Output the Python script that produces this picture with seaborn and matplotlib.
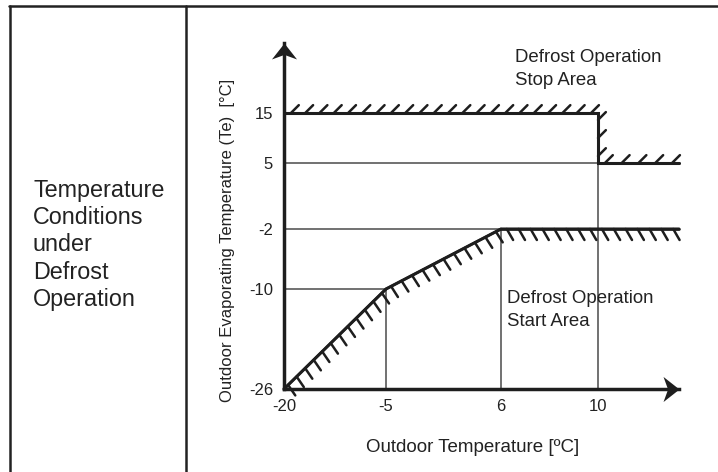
import numpy as np
import matplotlib
matplotlib.use("Agg")
import matplotlib.pyplot as plt
import seaborn as sns
from matplotlib import patheffects
from matplotlib.lines import Line2D

# breakpoints of the defrost boundaries (deg C)
x_ticks = [-20, -5, 6, 10]
y_ticks = [-26, -10, -2, 5, 15]
x_end = 13.5   # where the x arrow ends
y_top = 24     # where the y arrow ends
start_x = [-20, -5, 6, x_end]
start_y = [-26, -10, -2, -2]
stop_x = [-20, 10, 10, x_end]
stop_y = [15, 15, 5, 5]
hguide_y = [5, -2, -10]
hguide_xend = [10, 6, -5]
vguide_x = [-5, 6, 10]
vguide_yend = [-10, -2, 5]

# the chart is schematic: pixel spot of every breakpoint on each axis
x_px = [284, 386, 501, 598, 679]
y_px = [83, 183, 243, 309, 359, 429]

xa = np.array(x_ticks + [x_end], float)
ya = np.array(y_ticks + [y_top], float)


def xf(v):
    return np.interp(v, xa, x_px)


def xi(v):
    return np.interp(v, x_px, xa)


def yf(v):
    return np.interp(v, ya, y_px)


def yi(v):
    return np.interp(v, y_px, ya)


sns.set_theme(style="white")
plt.rcParams['font.family'] = ['Liberation Sans', 'DejaVu Sans']
ink = '#1e1e1e'
txt = '#222222'

W, H = 718, 472
fig = plt.figure(figsize=(W / 100, H / 100), dpi=100)
ax = fig.add_axes([284 / W, (H - 389) / H, 395 / W, 346 / H])

# thin guide lines
ax.hlines(hguide_y, -20, hguide_xend, color='#4a4a4a', lw=1.1, zorder=1)
ax.vlines(vguide_x, -26, vguide_yend, color='#4a4a4a', lw=1.1, zorder=1)

# hatched boundaries: (x, y, tick angle per segment, spacing, tick length)
bounds = [
    (stop_x, stop_y, [45, 135, 45], 10, 0.8),
    (start_x, start_y, [-100, -85, -60], 8.3, 1.1),
]
for xs, ys, angles, sp, ln in bounds:
    sns.lineplot(x=xs, y=ys, sort=False, estimator=None, color=ink, lw=2.2,
                 ax=ax, zorder=3, solid_joinstyle='miter', clip_on=False)
    for i, ang in enumerate(angles):
        sns.lineplot(x=xs[i:i + 2], y=ys[i:i + 2], sort=False, estimator=None,
                     color=ink, lw=1.8, ax=ax, zorder=3, clip_on=False,
                     path_effects=[patheffects.withTickedStroke(spacing=sp, angle=ang, length=ln)])

ax.set_xscale('function', functions=(xf, xi))
ax.set_yscale('function', functions=(yf, yi))
ax.set_xlim(-20, x_end)
ax.set_ylim(-26, y_top)
ax.set_xticks(x_ticks, [str(v) for v in x_ticks])
ax.set_yticks(y_ticks, [str(v) for v in y_ticks])
ax.minorticks_off()
ax.tick_params(length=0, labelsize=12, labelcolor=txt)
ax.tick_params(axis='x', pad=7.5)
ax.tick_params(axis='y', pad=8)

sns.despine(ax=ax)
for s in ['left', 'bottom']:
    ax.spines[s].set_linewidth(2.5)
    ax.spines[s].set_color(ink)

# arrow heads
head_up = [(0, 0), (-11, -14), (0, -10), (11, -14), (0, 0)]
head_right = [(0, 0), (-14, 11), (-10, 0), (-14, -11), (0, 0)]
ax.plot(0, 1, marker=head_up, ms=23, color=ink, mew=0,
        transform=ax.transAxes, clip_on=False, zorder=5)
ax.plot(1, 0, marker=head_right, ms=23, color=ink, mew=0,
        transform=ax.transAxes, clip_on=False, zorder=5)

ax.set_xlabel('Outdoor Temperature [ºC]', fontsize=13.5, color=txt)
ax.xaxis.set_label_coords(0.478, -0.168)
ax.xaxis.label.set_va('center')
ax.set_ylabel('Outdoor Evaporating Temperature (Te)  [°C]', fontsize=12, color=txt)
ax.yaxis.set_label_coords(-0.142, 0.428)
ax.yaxis.label.set_va('center')

fig.text(515 / W, 1 - 69 / H, 'Defrost Operation\nStop Area', fontsize=13.4,
         color=txt, va='center', ha='left', linespacing=1.4)
fig.text(507 / W, 1 - 310 / H, 'Defrost Operation\nStart Area', fontsize=13.4,
         color=txt, va='center', ha='left', linespacing=1.4)
fig.text(33 / W, 1 - 245 / H, 'Temperature\nConditions\nunder\nDefrost\nOperation',
         fontsize=16.8, color=txt, va='center', ha='left', linespacing=1.24)

# table frame
top = 1 - 6.2 / H
fig.add_artist(Line2D([9 / W, 1], [top, top], lw=1.8, color=txt))
fig.add_artist(Line2D([10 / W, 10 / W], [0, top], lw=1.8, color=txt))
fig.add_artist(Line2D([185.5 / W, 185.5 / W], [0, top], lw=1.8, color=txt))

fig.savefig('out.png', dpi=100)
